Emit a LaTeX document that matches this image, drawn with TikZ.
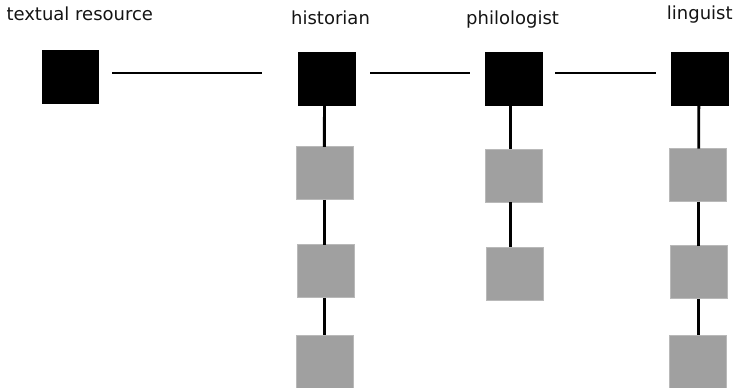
\documentclass[tikz,border=0pt]{standalone}
\usepackage{fontspec}
\setmainfont{DejaVu Sans}
\begin{document}
\begin{tikzpicture}[x=1pt,y=-1pt,
  blk/.style={fill=black,draw=none,inner sep=0pt,outer sep=0pt,minimum width=58pt,minimum height=54pt},
  gry/.style={fill={rgb,255:red,160;green,160;blue,160},draw={rgb,255:red,185;green,185;blue,185},line width=0.7pt,inner sep=0pt,outer sep=0pt,minimum width=57pt,minimum height=53pt},
  lbl/.style={anchor=base west,inner sep=0pt,text={rgb,255:red,20;green,20;blue,20},font=\fontsize{18}{21}\selectfont},
  link/.style={line width=2.9pt,draw=black}]
\useasboundingbox (0,0) rectangle (734,388);
% labels
\node[lbl] (ltr) at (6.3,20.7) {textual resource};
\node[lbl] (lh) at (291,24) {historian};
\node[lbl] (lp) at (466,24.3) {philologist};
\node[lbl] (ll) at (666.7,19.5) {linguist};
% top row
\node[blk,minimum width=57pt] (tr) at (70.5,77) {};
\node[blk] (h) at (327,79) {};
\node[blk] (p) at (513.5,79) {};
\node[blk] (l) at (700.3,79) {};
% historian column
\node[gry] (h1) at (324.5,173.3) {};
\node[gry] (h2) at (326,271.3) {};
\node[gry,minimum height=52.5pt] (h3) at (325,361.7) {};
% philologist column
\node[gry] (p1) at (513.5,175.7) {};
\node[gry] (p2) at (515,273.8) {};
% linguist column
\node[gry] (l1) at (698,175.2) {};
\node[gry] (l2) at (699,272.3) {};
\node[gry,minimum height=52.5pt] (l3) at (698.3,361.7) {};
% horizontal links
\draw[link,shorten <=13pt,shorten >=36pt] ([yshift=4pt]tr.east) -- ([yshift=6pt]h.west);
\draw[link,shorten <=14pt,shorten >=14.5pt] ([yshift=6pt]h.east) -- ([yshift=6pt]p.west);
\draw[link,shorten <=12.5pt,shorten >=15pt] ([yshift=6pt]p.east) -- ([yshift=6pt]l.west);
% vertical links
\draw[link] ([xshift=-2.5pt]h.south) -- ([xshift=-0.2pt]h1.north);
\draw[link] ([xshift=-0.2pt]h1.south) -- ([xshift=-1.7pt]h2.north);
\draw[link] ([xshift=-1.7pt]h2.south) -- ([xshift=-0.7pt]h3.north);
\draw[link] ([xshift=-3pt]p.south) -- ([xshift=-3pt]p1.north);
\draw[link] ([xshift=-3pt]p1.south) -- ([xshift=-4.5pt]p2.north);
\draw[link] ([xshift=-1.5pt]l.south) -- ([xshift=0.7pt]l1.north);
\draw[link] ([xshift=0.7pt]l1.south) -- ([xshift=-0.3pt]l2.north);
\draw[link] ([xshift=-0.3pt]l2.south) -- ([xshift=0.4pt]l3.north);
\end{tikzpicture}
\end{document}
